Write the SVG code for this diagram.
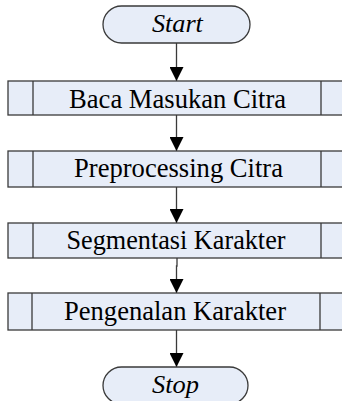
<svg xmlns="http://www.w3.org/2000/svg" width="342" height="401" viewBox="0 0 342 401">
<defs>
<style>
.shape{fill:#e7edf8;stroke:#3a3a3a;stroke-width:1.3}
.div{fill:none;stroke:#3a3a3a;stroke-width:1.3}
.conn{fill:none;stroke:#3a3a3a;stroke-width:1.3}
</style>
<marker id="ah" viewBox="0 0 14 14" refX="14" refY="7" markerWidth="14" markerHeight="14" markerUnits="userSpaceOnUse" orient="auto">
<path d="M0,0 L14,7 L0,14 Z" fill="#000"/>
</marker>
</defs>
<rect width="342" height="401" fill="#fff"/>
<g id="connectors">
<path class="conn" d="M176.5,43 V81" marker-end="url(#ah)"/>
<path class="conn" d="M176.5,115 V151" marker-end="url(#ah)"/>
<path class="conn" d="M176.5,187 V223" marker-end="url(#ah)"/>
<path class="conn" d="M177,258 V266 H176.5 V293" marker-end="url(#ah)"/>
<path class="conn" d="M176.5,330 V367" marker-end="url(#ah)"/>
</g>
<g font-family="Liberation Serif, Times New Roman, DejaVu Serif, serif" fill="#000" text-anchor="middle">
<g id="start">
<rect class="shape" x="103" y="6" width="147" height="37" rx="18.5" ry="18.5"/>
<text x="177.4" y="32" font-size="26" font-style="italic" textLength="51" lengthAdjust="spacingAndGlyphs">Start</text>
</g>
<g id="baca">
<rect class="shape" x="8" y="81" width="337" height="34"/>
<path class="div" d="M33,81 V115 M321,81 V115"/>
<text x="177.6" y="108" font-size="27.5" textLength="217" lengthAdjust="spacingAndGlyphs">Baca Masukan Citra</text>
</g>
<g id="preprocessing">
<rect class="shape" x="8" y="151" width="337" height="36"/>
<path class="div" d="M33,151 V187 M321,151 V187"/>
<text x="178.5" y="177" font-size="27.5" textLength="209" lengthAdjust="spacingAndGlyphs">Preprocessing Citra</text>
</g>
<g id="segmentasi">
<rect class="shape" x="8" y="223" width="337" height="35"/>
<path class="div" d="M33,223 V258 M321,223 V258"/>
<text x="176" y="249" font-size="27.5" textLength="219" lengthAdjust="spacingAndGlyphs">Segmentasi Karakter</text>
</g>
<g id="pengenalan">
<rect class="shape" x="8" y="293" width="337" height="37"/>
<path class="div" d="M32,293 V330 M320,293 V330"/>
<text x="175" y="320" font-size="27.5" textLength="222" lengthAdjust="spacingAndGlyphs">Pengenalan Karakter</text>
</g>
<g id="stop">
<rect class="shape" x="103" y="367" width="145" height="37" rx="18.5" ry="18.5"/>
<text x="175.5" y="393" font-size="26" font-style="italic" textLength="47" lengthAdjust="spacingAndGlyphs">Stop</text>
</g>
</g>
</svg>
